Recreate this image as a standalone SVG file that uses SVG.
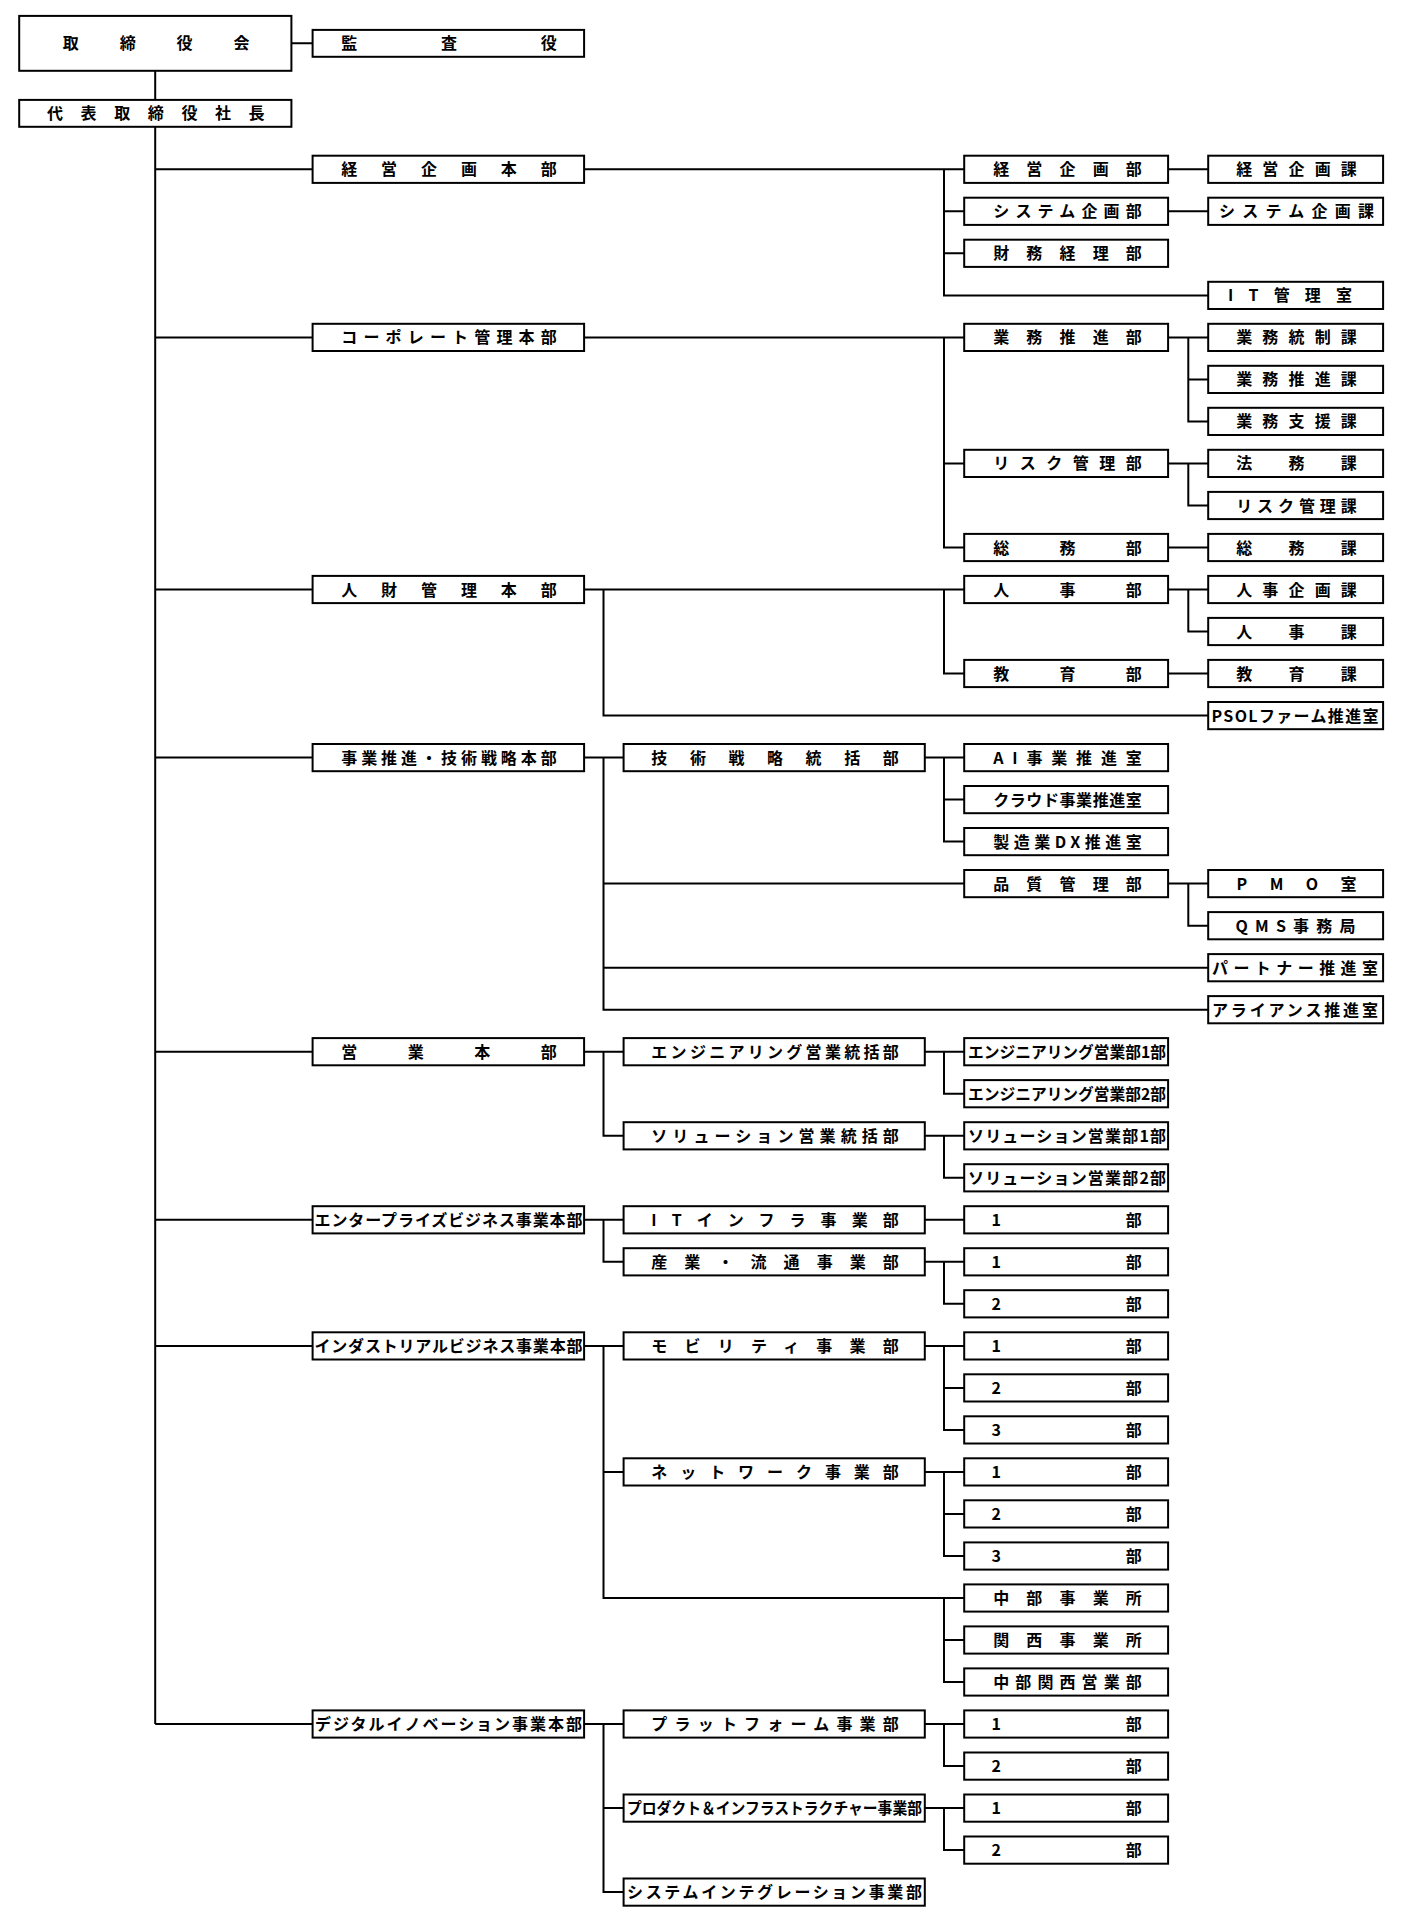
<svg xmlns="http://www.w3.org/2000/svg" width="1403" height="1920" viewBox="0 0 1403 1920">
<style>
rect{fill:#fff;stroke:#000;stroke-width:2}
text{font-family:"Noto Sans CJK JP","Noto Sans CJK SC",sans-serif;font-weight:700;font-size:16px;fill:#000}
.c path{fill:none;stroke:#000;stroke-width:2;stroke-linejoin:miter}
</style>
<g class="c" id="connectors">
<path d="M155.2 70.8V99.9M155.2 126.8V1724M291.4 43.3H312.6"/>
<path d="M155.2 169.3H312.6M155.2 337.4H312.6M155.2 589.5H312.6M155.2 757.6H312.6M155.2 1051.7H312.6M155.2 1219.8H312.6M155.2 1345.9H312.6M155.2 1724H312.6"/>
<path d="M584.1 169.3H964.2M944 169.3V295.4H1208.2M944 211.3H964.2M944 253.3H964.2M1168.1 169.3H1208.2M1168.1 211.3H1208.2"/>
<path d="M584.1 337.4H964.2M944 337.4V547.5H964.2M944 463.4H964.2M1168.1 337.4H1208.2M1188.3 337.4V421.4H1208.2M1188.3 379.4H1208.2M1168.1 463.4H1208.2M1188.3 463.4V505.5H1208.2M1168.1 547.5H1208.2"/>
<path d="M584.1 589.5H964.2M603.5 589.5V715.6H1208.2M944 589.5V673.5H964.2M1168.1 589.5H1208.2M1188.3 589.5V631.5H1208.2M1168.1 673.5H1208.2"/>
<path d="M584.1 757.6H623.6M603.5 757.6V1009.7H1208.2M603.5 883.6H964.2M603.5 967.7H1208.2M924.8 757.6H964.2M944 757.6V841.6H964.2M944 799.6H964.2M1168.1 883.6H1208.2M1188.3 883.6V925.7H1208.2"/>
<path d="M584.1 1051.7H623.6M603.5 1051.7V1135.8H623.6M924.8 1051.7H964.2M944 1051.7V1093.7H964.2M924.8 1135.8H964.2M944 1135.8V1177.8H964.2"/>
<path d="M584.1 1219.8H623.6M603.5 1219.8V1261.8H623.6M924.8 1219.8H964.2M924.8 1261.8H964.2M944 1261.8V1303.8H964.2"/>
<path d="M584.1 1345.9H623.6M603.5 1345.9V1598H964.2M603.5 1471.9H623.6M944 1598V1682H964.2M944 1640H964.2M924.8 1345.9H964.2M944 1345.9V1429.9H964.2M944 1387.9H964.2M924.8 1471.9H964.2M944 1471.9V1556H964.2M944 1513.9H964.2"/>
<path d="M584.1 1724H623.6M603.5 1724V1892.1H623.6M603.5 1808.1H623.6M924.8 1724H964.2M944 1724V1766.1H964.2M924.8 1808.1H964.2M944 1808.1V1850.1H964.2"/>
</g>

<g id="n-board"><rect x="19.2" y="15.9" width="272.2" height="54.9"/><text x="62.7" y="49.3" textLength="186.9" lengthAdjust="spacing">取締役会</text></g>
<g id="n-auditor"><rect x="312.6" y="29.9" width="271.5" height="26.9"/><text x="341.2" y="49.3" textLength="215.6" lengthAdjust="spacing">監査役</text></g>
<g id="n-president"><rect x="19.2" y="99.9" width="272.2" height="26.9"/><text x="47" y="119.4" textLength="217.6" lengthAdjust="spacing">代表取締役社長</text></g>

<g id="n-b-keiei" transform="translate(0 169.3)"><rect x="312.6" y="-13.6" width="271.5" height="27.2"/><text x="341.2" y="6" textLength="215.6" lengthAdjust="spacing">経営企画本部</text></g>
<g id="n-d-keiei" transform="translate(0 169.3)"><rect x="964.2" y="-13.6" width="203.9" height="27.2"/><text x="993.2" y="6" textLength="148.6" lengthAdjust="spacing">経営企画部</text></g>
<g id="n-e-keiei" transform="translate(0 169.3)"><rect x="1208.2" y="-13.6" width="174.9" height="27.2"/><text x="1236.2" y="6" textLength="120.6" lengthAdjust="spacing">経営企画課</text></g>
<g id="n-d-system" transform="translate(0 211.3)"><rect x="964.2" y="-13.6" width="203.9" height="27.2"/><text x="993.2" y="6" textLength="148.6" lengthAdjust="spacing">システム企画部</text></g>
<g id="n-e-system" transform="translate(0 211.3)"><rect x="1208.2" y="-13.6" width="174.9" height="27.2"/><text x="1219" y="6" textLength="155" lengthAdjust="spacing">システム企画課</text></g>
<g id="n-d-zaimu" transform="translate(0 253.3)"><rect x="964.2" y="-13.6" width="203.9" height="27.2"/><text x="993.2" y="6" textLength="148.6" lengthAdjust="spacing">財務経理部</text></g>
<g id="n-e-it" transform="translate(0 295.4)"><rect x="1208.2" y="-13.6" width="174.9" height="27.2"/><text x="1228" y="6" textLength="124" lengthAdjust="spacing">IT管理室</text></g>

<g id="n-b-corp" transform="translate(0 337.4)"><rect x="312.6" y="-13.6" width="271.5" height="27.2"/><text x="341.2" y="6" textLength="215.6" lengthAdjust="spacing">コーポレート管理本部</text></g>
<g id="n-d-gyomu" transform="translate(0 337.4)"><rect x="964.2" y="-13.6" width="203.9" height="27.2"/><text x="993.2" y="6" textLength="148.6" lengthAdjust="spacing">業務推進部</text></g>
<g id="n-e-tosei" transform="translate(0 337.4)"><rect x="1208.2" y="-13.6" width="174.9" height="27.2"/><text x="1236.2" y="6" textLength="120.6" lengthAdjust="spacing">業務統制課</text></g>
<g id="n-e-suishin" transform="translate(0 379.4)"><rect x="1208.2" y="-13.6" width="174.9" height="27.2"/><text x="1236.2" y="6" textLength="120.6" lengthAdjust="spacing">業務推進課</text></g>
<g id="n-e-shien" transform="translate(0 421.4)"><rect x="1208.2" y="-13.6" width="174.9" height="27.2"/><text x="1236.2" y="6" textLength="120.6" lengthAdjust="spacing">業務支援課</text></g>
<g id="n-d-risk" transform="translate(0 463.4)"><rect x="964.2" y="-13.6" width="203.9" height="27.2"/><text x="993.2" y="6" textLength="148.6" lengthAdjust="spacing">リスク管理部</text></g>
<g id="n-e-homu" transform="translate(0 463.4)"><rect x="1208.2" y="-13.6" width="174.9" height="27.2"/><text x="1236.2" y="6" textLength="120.6" lengthAdjust="spacing">法務課</text></g>
<g id="n-e-risk" transform="translate(0 505.5)"><rect x="1208.2" y="-13.6" width="174.9" height="27.2"/><text x="1236.2" y="6" textLength="120.6" lengthAdjust="spacing">リスク管理課</text></g>
<g id="n-d-somu" transform="translate(0 547.5)"><rect x="964.2" y="-13.6" width="203.9" height="27.2"/><text x="993.2" y="6" textLength="148.6" lengthAdjust="spacing">総務部</text></g>
<g id="n-e-somu" transform="translate(0 547.5)"><rect x="1208.2" y="-13.6" width="174.9" height="27.2"/><text x="1236.2" y="6" textLength="120.6" lengthAdjust="spacing">総務課</text></g>

<g id="n-b-jinzai" transform="translate(0 589.5)"><rect x="312.6" y="-13.6" width="271.5" height="27.2"/><text x="341.2" y="6" textLength="215.6" lengthAdjust="spacing">人財管理本部</text></g>
<g id="n-d-jinji" transform="translate(0 589.5)"><rect x="964.2" y="-13.6" width="203.9" height="27.2"/><text x="993.2" y="6" textLength="148.6" lengthAdjust="spacing">人事部</text></g>
<g id="n-e-jinjikikaku" transform="translate(0 589.5)"><rect x="1208.2" y="-13.6" width="174.9" height="27.2"/><text x="1236.2" y="6" textLength="120.6" lengthAdjust="spacing">人事企画課</text></g>
<g id="n-e-jinji" transform="translate(0 631.5)"><rect x="1208.2" y="-13.6" width="174.9" height="27.2"/><text x="1236.2" y="6" textLength="120.6" lengthAdjust="spacing">人事課</text></g>
<g id="n-d-kyoiku" transform="translate(0 673.5)"><rect x="964.2" y="-13.6" width="203.9" height="27.2"/><text x="993.2" y="6" textLength="148.6" lengthAdjust="spacing">教育部</text></g>
<g id="n-e-kyoiku" transform="translate(0 673.5)"><rect x="1208.2" y="-13.6" width="174.9" height="27.2"/><text x="1236.2" y="6" textLength="120.6" lengthAdjust="spacing">教育課</text></g>
<g id="n-e-psol" transform="translate(0 715.6)"><rect x="1208.2" y="-13.6" width="174.9" height="27.2"/><text x="1211.5" y="6" textLength="167" lengthAdjust="spacing">PSOLファーム推進室</text></g>

<g id="n-b-jigyo" transform="translate(0 757.6)"><rect x="312.6" y="-13.6" width="271.5" height="27.2"/><text x="341.2" y="6" textLength="215.6" lengthAdjust="spacing">事業推進・技術戦略本部</text></g>
<g id="n-c-gijutsu" transform="translate(0 757.6)"><rect x="623.6" y="-13.6" width="301.2" height="27.2"/><text x="651.3" y="6" textLength="247.5" lengthAdjust="spacing">技術戦略統括部</text></g>
<g id="n-d-ai" transform="translate(0 757.6)"><rect x="964.2" y="-13.6" width="203.9" height="27.2"/><text x="993.2" y="6" textLength="148.6" lengthAdjust="spacing">AI事業推進室</text></g>
<g id="n-d-cloud" transform="translate(0 799.6)"><rect x="964.2" y="-13.6" width="203.9" height="27.2"/><text x="993.2" y="6" textLength="148.6" lengthAdjust="spacing">クラウド事業推進室</text></g>
<g id="n-d-dx" transform="translate(0 841.6)"><rect x="964.2" y="-13.6" width="203.9" height="27.2"/><text x="993.2" y="6" textLength="148.6" lengthAdjust="spacing">製造業DX推進室</text></g>
<g id="n-d-hinshitsu" transform="translate(0 883.6)"><rect x="964.2" y="-13.6" width="203.9" height="27.2"/><text x="993.2" y="6" textLength="148.6" lengthAdjust="spacing">品質管理部</text></g>
<g id="n-e-pmo" transform="translate(0 883.6)"><rect x="1208.2" y="-13.6" width="174.9" height="27.2"/><text x="1236.5" y="6" textLength="120" lengthAdjust="spacing">PMO室</text></g>
<g id="n-e-qms" transform="translate(0 925.7)"><rect x="1208.2" y="-13.6" width="174.9" height="27.2"/><text x="1235.5" y="6" textLength="120" lengthAdjust="spacing">QMS事務局</text></g>
<g id="n-e-partner" transform="translate(0 967.7)"><rect x="1208.2" y="-13.6" width="174.9" height="27.2"/><text x="1212" y="6" textLength="166" lengthAdjust="spacing">パートナー推進室</text></g>
<g id="n-e-alliance" transform="translate(0 1009.7)"><rect x="1208.2" y="-13.6" width="174.9" height="27.2"/><text x="1212" y="6" textLength="166" lengthAdjust="spacing">アライアンス推進室</text></g>

<g id="n-b-eigyo" transform="translate(0 1051.7)"><rect x="312.6" y="-13.6" width="271.5" height="27.2"/><text x="341.2" y="6" textLength="215.6" lengthAdjust="spacing">営業本部</text></g>
<g id="n-c-eng" transform="translate(0 1051.7)"><rect x="623.6" y="-13.6" width="301.2" height="27.2"/><text x="651.3" y="6" textLength="247.5" lengthAdjust="spacing">エンジニアリング営業統括部</text></g>
<g id="n-d-eng1" transform="translate(0 1051.7)"><rect x="964.2" y="-13.6" width="203.9" height="27.2"/><text x="968" y="6" textLength="198" lengthAdjust="spacingAndGlyphs">エンジニアリング営業部1部</text></g>
<g id="n-d-eng2" transform="translate(0 1093.7)"><rect x="964.2" y="-13.6" width="203.9" height="27.2"/><text x="968" y="6" textLength="198" lengthAdjust="spacingAndGlyphs">エンジニアリング営業部2部</text></g>
<g id="n-c-sol" transform="translate(0 1135.8)"><rect x="623.6" y="-13.6" width="301.2" height="27.2"/><text x="651.3" y="6" textLength="247.5" lengthAdjust="spacing">ソリューション営業統括部</text></g>
<g id="n-d-sol1" transform="translate(0 1135.8)"><rect x="964.2" y="-13.6" width="203.9" height="27.2"/><text x="968" y="6" textLength="198" lengthAdjust="spacing">ソリューション営業部1部</text></g>
<g id="n-d-sol2" transform="translate(0 1177.8)"><rect x="964.2" y="-13.6" width="203.9" height="27.2"/><text x="968" y="6" textLength="198" lengthAdjust="spacing">ソリューション営業部2部</text></g>

<g id="n-b-enterprise" transform="translate(0 1219.8)"><rect x="312.6" y="-13.6" width="271.5" height="27.2"/><text x="314.5" y="6" textLength="268" lengthAdjust="spacing">エンタープライズビジネス事業本部</text></g>
<g id="n-c-itinfra" transform="translate(0 1219.8)"><rect x="623.6" y="-13.6" width="301.2" height="27.2"/><text x="651.3" y="6" textLength="247.5" lengthAdjust="spacing">ITインフラ事業部</text></g>
<g id="n-d-itinfra1" transform="translate(0 1219.8)"><rect x="964.2" y="-13.6" width="203.9" height="27.2"/><text x="991.5" y="6" textLength="150.3" lengthAdjust="spacing">1部</text></g>
<g id="n-c-sangyo" transform="translate(0 1261.8)"><rect x="623.6" y="-13.6" width="301.2" height="27.2"/><text x="651.3" y="6" textLength="247.5" lengthAdjust="spacing">産業・流通事業部</text></g>
<g id="n-d-sangyo1" transform="translate(0 1261.8)"><rect x="964.2" y="-13.6" width="203.9" height="27.2"/><text x="991.5" y="6" textLength="150.3" lengthAdjust="spacing">1部</text></g>
<g id="n-d-sangyo2" transform="translate(0 1303.8)"><rect x="964.2" y="-13.6" width="203.9" height="27.2"/><text x="991.5" y="6" textLength="150.3" lengthAdjust="spacing">2部</text></g>

<g id="n-b-industrial" transform="translate(0 1345.9)"><rect x="312.6" y="-13.6" width="271.5" height="27.2"/><text x="314.5" y="6" textLength="268" lengthAdjust="spacing">インダストリアルビジネス事業本部</text></g>
<g id="n-c-mobility" transform="translate(0 1345.9)"><rect x="623.6" y="-13.6" width="301.2" height="27.2"/><text x="651.3" y="6" textLength="247.5" lengthAdjust="spacing">モビリティ事業部</text></g>
<g id="n-d-mob1" transform="translate(0 1345.9)"><rect x="964.2" y="-13.6" width="203.9" height="27.2"/><text x="991.5" y="6" textLength="150.3" lengthAdjust="spacing">1部</text></g>
<g id="n-d-mob2" transform="translate(0 1387.9)"><rect x="964.2" y="-13.6" width="203.9" height="27.2"/><text x="991.5" y="6" textLength="150.3" lengthAdjust="spacing">2部</text></g>
<g id="n-d-mob3" transform="translate(0 1429.9)"><rect x="964.2" y="-13.6" width="203.9" height="27.2"/><text x="991.5" y="6" textLength="150.3" lengthAdjust="spacing">3部</text></g>
<g id="n-c-network" transform="translate(0 1471.9)"><rect x="623.6" y="-13.6" width="301.2" height="27.2"/><text x="651.3" y="6" textLength="247.5" lengthAdjust="spacing">ネットワーク事業部</text></g>
<g id="n-d-net1" transform="translate(0 1471.9)"><rect x="964.2" y="-13.6" width="203.9" height="27.2"/><text x="991.5" y="6" textLength="150.3" lengthAdjust="spacing">1部</text></g>
<g id="n-d-net2" transform="translate(0 1513.9)"><rect x="964.2" y="-13.6" width="203.9" height="27.2"/><text x="991.5" y="6" textLength="150.3" lengthAdjust="spacing">2部</text></g>
<g id="n-d-net3" transform="translate(0 1556)"><rect x="964.2" y="-13.6" width="203.9" height="27.2"/><text x="991.5" y="6" textLength="150.3" lengthAdjust="spacing">3部</text></g>
<g id="n-d-chubu" transform="translate(0 1598)"><rect x="964.2" y="-13.6" width="203.9" height="27.2"/><text x="993.2" y="6" textLength="148.6" lengthAdjust="spacing">中部事業所</text></g>
<g id="n-d-kansai" transform="translate(0 1640)"><rect x="964.2" y="-13.6" width="203.9" height="27.2"/><text x="993.2" y="6" textLength="148.6" lengthAdjust="spacing">関西事業所</text></g>
<g id="n-d-chubukansai" transform="translate(0 1682)"><rect x="964.2" y="-13.6" width="203.9" height="27.2"/><text x="993.2" y="6" textLength="148.6" lengthAdjust="spacing">中部関西営業部</text></g>

<g id="n-b-digital" transform="translate(0 1724)"><rect x="312.6" y="-13.6" width="271.5" height="27.2"/><text x="315" y="6" textLength="267" lengthAdjust="spacing">デジタルイノベーション事業本部</text></g>
<g id="n-c-platform" transform="translate(0 1724)"><rect x="623.6" y="-13.6" width="301.2" height="27.2"/><text x="651.3" y="6" textLength="247.5" lengthAdjust="spacing">プラットフォーム事業部</text></g>
<g id="n-d-plat1" transform="translate(0 1724)"><rect x="964.2" y="-13.6" width="203.9" height="27.2"/><text x="991.5" y="6" textLength="150.3" lengthAdjust="spacing">1部</text></g>
<g id="n-d-plat2" transform="translate(0 1766.1)"><rect x="964.2" y="-13.6" width="203.9" height="27.2"/><text x="991.5" y="6" textLength="150.3" lengthAdjust="spacing">2部</text></g>
<g id="n-c-product" transform="translate(0 1808.1)"><rect x="623.6" y="-13.6" width="301.2" height="27.2"/><text x="627" y="6" textLength="295" lengthAdjust="spacingAndGlyphs">プロダクト＆インフラストラクチャー事業部</text></g>
<g id="n-d-prod1" transform="translate(0 1808.1)"><rect x="964.2" y="-13.6" width="203.9" height="27.2"/><text x="991.5" y="6" textLength="150.3" lengthAdjust="spacing">1部</text></g>
<g id="n-d-prod2" transform="translate(0 1850.1)"><rect x="964.2" y="-13.6" width="203.9" height="27.2"/><text x="991.5" y="6" textLength="150.3" lengthAdjust="spacing">2部</text></g>
<g id="n-c-si" transform="translate(0 1892.1)"><rect x="623.6" y="-13.6" width="301.2" height="27.2"/><text x="627" y="6" textLength="295" lengthAdjust="spacing">システムインテグレーション事業部</text></g>
</svg>
